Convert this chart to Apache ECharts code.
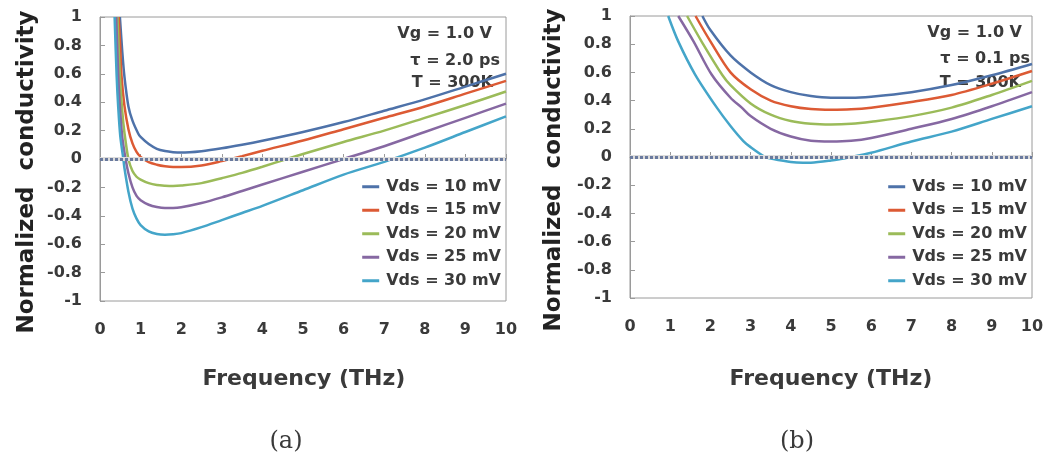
<!DOCTYPE html>
<html>
<head>
<meta charset="utf-8">
<script src="https://cdn.jsdelivr.net/npm/echarts@6/dist/echarts.min.js"></script>
<style>
    html, body { margin: 0; padding: 0; background: #fff; }
    #chart { width: 1048px; height: 464px; }
</style>
</head>
<body>
<div id="chart"></div>
<script>
// legend names
const names = ['Vds = 10 mV', 'Vds = 15 mV', 'Vds = 20 mV', 'Vds = 25 mV', 'Vds = 30 mV']
const colors = ['#4e72a9', '#dc5a34', '#9bbb59', '#8668a2', '#44a5c9']
const yTicks = [-1, -0.8, -0.6, -0.4, -0.2, 0, 0.2, 0.4, 0.6, 0.8, 1]

// (a) tau = 2.0 ps   [frequency THz, normalized conductivity]
const a10 = [[0.49, 1.0], [0.55, 0.75], [0.6, 0.585], [0.7, 0.37], [0.8, 0.27], [0.94, 0.18], [1.0, 0.155], [1.2, 0.105], [1.4, 0.072], [1.6, 0.056], [1.8, 0.048], [2.0, 0.045], [2.5, 0.055], [3.0, 0.075], [3.5, 0.1], [4.0, 0.128], [5.0, 0.19], [6.0, 0.26], [7.0, 0.34], [8.0, 0.42], [9.0, 0.51], [10.0, 0.6]]
const a15 = [[0.46, 1.0], [0.5, 0.78], [0.53, 0.585], [0.6, 0.38], [0.7, 0.21], [0.8, 0.11], [0.9, 0.05], [1.0, 0.015], [1.2, -0.022], [1.4, -0.04], [1.6, -0.051], [1.8, -0.056], [2.0, -0.056], [2.5, -0.045], [3.0, -0.015], [3.5, 0.02], [4.0, 0.058], [5.0, 0.13], [6.0, 0.21], [7.0, 0.29], [8.0, 0.37], [9.0, 0.46], [10.0, 0.55]]
const a20 = [[0.43, 1.0], [0.49, 0.585], [0.55, 0.33], [0.6, 0.19], [0.7, 0.0], [0.8, -0.085], [0.9, -0.125], [1.0, -0.145], [1.2, -0.17], [1.4, -0.183], [1.6, -0.188], [1.8, -0.19], [2.0, -0.187], [2.5, -0.17], [3.0, -0.135], [3.5, -0.098], [4.0, -0.055], [4.6, 0.0], [5.0, 0.035], [6.0, 0.12], [7.0, 0.2], [8.0, 0.29], [9.0, 0.38], [10.0, 0.475]]
const a25 = [[0.4, 1.0], [0.45, 0.585], [0.5, 0.33], [0.55, 0.15], [0.63, 0.0], [0.7, -0.1], [0.8, -0.2], [0.9, -0.26], [1.0, -0.29], [1.2, -0.322], [1.4, -0.338], [1.6, -0.345], [1.8, -0.345], [2.0, -0.34], [2.5, -0.31], [3.0, -0.27], [3.5, -0.225], [4.0, -0.18], [5.0, -0.09], [6.0, 0.0], [7.0, 0.09], [8.0, 0.19], [9.0, 0.29], [10.0, 0.39]]
const a30 = [[0.36, 1.0], [0.41, 0.585], [0.45, 0.36], [0.5, 0.16], [0.575, 0.0], [0.6, -0.06], [0.7, -0.23], [0.8, -0.35], [0.9, -0.42], [1.0, -0.465], [1.2, -0.51], [1.4, -0.528], [1.6, -0.533], [1.8, -0.53], [2.0, -0.522], [2.5, -0.48], [3.0, -0.43], [3.5, -0.38], [4.0, -0.33], [5.0, -0.22], [6.0, -0.11], [7.0, -0.02], [8.0, 0.08], [9.0, 0.19], [10.0, 0.3]]

// (b) tau = 0.1 ps
const b10 = [[1.8, 1.0], [2.0, 0.9], [2.5, 0.72], [3.0, 0.6], [3.5, 0.51], [4.0, 0.46], [4.5, 0.432], [5.0, 0.42], [5.5, 0.42], [6.0, 0.428], [7.0, 0.46], [8.0, 0.51], [9.0, 0.58], [10.0, 0.66]]
const b15 = [[1.63, 1.0], [2.0, 0.82], [2.5, 0.6], [3.0, 0.48], [3.5, 0.4], [4.0, 0.36], [4.5, 0.34], [5.0, 0.335], [5.5, 0.338], [6.0, 0.35], [7.0, 0.39], [8.0, 0.44], [9.0, 0.52], [10.0, 0.61]]
const b20 = [[1.42, 1.0], [1.8, 0.81], [2.3, 0.58], [2.5, 0.51], [3.0, 0.38], [3.5, 0.3], [4.0, 0.255], [4.5, 0.235], [5.0, 0.23], [5.5, 0.235], [6.0, 0.25], [7.0, 0.29], [8.0, 0.35], [9.0, 0.44], [10.0, 0.54]]
const b25 = [[1.2, 1.0], [1.58, 0.82], [2.03, 0.585], [2.5, 0.42], [2.78, 0.35], [3.0, 0.29], [3.5, 0.2], [4.0, 0.145], [4.5, 0.115], [5.0, 0.11], [5.5, 0.115], [6.0, 0.135], [7.0, 0.2], [8.0, 0.27], [9.0, 0.36], [10.0, 0.46]]
const b30 = [[0.95, 1.0], [1.2, 0.82], [1.62, 0.585], [2.16, 0.35], [2.5, 0.22], [2.82, 0.113], [3.0, 0.07], [3.36, 0.0], [3.5, -0.01], [4.0, -0.035], [4.3, -0.04], [4.5, -0.04], [5.0, -0.025], [5.5, 0.0], [6.0, 0.03], [7.0, 0.11], [8.0, 0.18], [9.0, 0.27], [10.0, 0.36]]

const panelA = [a10, a15, a20, a25, a30]
const panelB = [b10, b15, b20, b25, b30]

const font = 'DejaVu Sans'
const textColor = '#3a3a3a'
const axisColor = '#9a9a9a'

function makeXAxis(gridIndex) {
    return {
        type: 'value',
        gridIndex: gridIndex,
        min: 0,
        max: 10,
        interval: 1,
        axisLine: { lineStyle: { color: axisColor, width: 1 } },
        axisTick: { inside: true, length: 5, lineStyle: { color: axisColor } },
        axisLabel: { color: textColor, fontFamily: font, fontWeight: 'bold', fontSize: 16, margin: 21 },
        splitLine: { show: false },
    }
}

function makeYAxis(gridIndex) {
    return {
        type: 'value',
        gridIndex: gridIndex,
        min: yTicks[0],
        max: yTicks[yTicks.length - 1],
        interval: 0.2,
        axisLine: { lineStyle: { color: axisColor, width: 1 } },
        axisTick: { inside: true, length: 5, lineStyle: { color: axisColor } },
        axisLabel: { color: textColor, fontFamily: font, fontWeight: 'bold', fontSize: 16, margin: 18 },
        splitLine: { show: false },
    }
}

function makeSeries(list, gridIndex) {
    const out = list.map((data, i) => {
        return {
            name: names[i],
            type: 'line',
            xAxisIndex: gridIndex,
            yAxisIndex: gridIndex,
            data: data,
            smooth: 0.3,
            showSymbol: false,
            symbol: 'none',
            clip: true,
            lineStyle: { color: colors[i], width: 2.5 },
            itemStyle: { color: colors[i] },
            z: 2,
        }
    })
    // zero reference line, dotted
    out.push({
        type: 'line',
        xAxisIndex: gridIndex,
        yAxisIndex: gridIndex,
        data: [],
        z: 3,
        markLine: {
            silent: true,
            symbol: 'none',
            label: { show: false },
            animation: false,
            data: [
                { yAxis: 0, lineStyle: { color: '#dcdcdc', width: 4, type: 'solid' } },
                { yAxis: 0, lineStyle: { color: '#6a7a9e', width: 3, type: [3, 2] } },
            ],
        },
    })
    return out
}

function makeLegend(right) {
    return {
        data: names,
        orient: 'vertical',
        right: right,
        top: 173,
        icon: 'rect',
        itemWidth: 17,
        itemHeight: 3,
        itemGap: 6,
        selectedMode: false,
        textStyle: { color: textColor, fontFamily: font, fontWeight: 'bold', fontSize: 16, lineHeight: 17.5, padding: [0, 0, 0, 2] },
    }
}

function label(text, x, y, align, size, weight, family) {
    return {
        type: 'text',
        x: x,
        y: y,
        style: {
            text: text,
            fill: textColor,
            font: weight + ' ' + size + 'px "' + family + '"',
            textAlign: align,
            textVerticalAlign: 'middle',
        },
    }
}

const yTitleA = label('Normalized  conductivity', 27, 172, 'center', 23, 'bold', font)
yTitleA.rotation = Math.PI / 2
yTitleA.style.fill = '#222'
const yTitleB = label('Normalized  conductivity', 554, 170, 'center', 23, 'bold', font)
yTitleB.rotation = Math.PI / 2
yTitleB.style.fill = '#222'

const graphics = [
    yTitleA,
    yTitleB,
    label('Frequency (THz)', 304, 379, 'center', 22, 'bold', font),
    label('Frequency (THz)', 831, 379, 'center', 22, 'bold', font),
    label('(a)', 286, 442, 'center', 24, 'normal', 'DejaVu Serif'),
    label('(b)', 797, 442, 'center', 24, 'normal', 'DejaVu Serif'),
    label('Vg = 1.0 V', 492, 34, 'right', 16, 'bold', font),
    label('τ = 2.0 ps', 500, 61, 'right', 16, 'bold', font),
    label('T = 300K', 493, 83, 'right', 16, 'bold', font),
    label('Vg = 1.0 V', 1022, 33, 'right', 16, 'bold', font),
    label('τ = 0.1 ps', 1030, 59, 'right', 16, 'bold', font),
    label('T = 300K', 1021, 83, 'right', 16, 'bold', font),
]

const chart = echarts.init(document.getElementById('chart'), null, { renderer: 'canvas' })
const option = {
    animation: false,
    backgroundColor: '#fff',
    grid: [
        { left: 100, top: 17, width: 406, height: 284, show: true, borderColor: axisColor, borderWidth: 1 },
        { left: 630, top: 16, width: 402, height: 282, show: true, borderColor: axisColor, borderWidth: 1 },
    ],
    xAxis: [makeXAxis(0), makeXAxis(1)],
    yAxis: [makeYAxis(0), makeYAxis(1)],
    legend: [makeLegend(1048 - 506), makeLegend(1048 - 1032)],
    graphic: graphics,
    series: makeSeries(panelA, 0).concat(makeSeries(panelB, 1)),
}
chart.setOption(option)
</script>
</body>
</html>
